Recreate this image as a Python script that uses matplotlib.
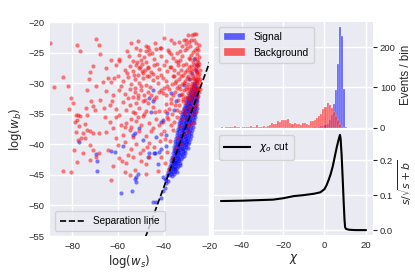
import numpy as np
import matplotlib
matplotlib.use("Agg")
import matplotlib.pyplot as plt

plt.rcParams['font.family'] = ['Liberation Sans', 'DejaVu Sans']
plt.rcParams['mathtext.fontset'] = 'dejavusans'

# ---------------- data ----------------
# background scatter (log w_s, log w_b)
bkg_pts = [
    # far left sparse
    (-89.7, -23.5), (-87.9, -30.6), (-84.2, -29.0), (-81.7, -30.4), (-80.3, -32.5), (-79.8, -33.3),
    (-81.3, -34.3), (-77.8, -23.7), (-76.4, -24.8), (-78.4, -35.2), (-78.1, -36.0), (-77.5, -35.2),
    (-76.6, -35.4), (-78.8, -36.3), (-76.9, -37.0), (-78.4, -38.0), (-77.4, -39.3), (-76.2, -39.0),
    (-74.5, -39.0), (-79.3, -41.0), (-78.1, -42.9), (-80.7, -44.5), (-84.2, -44.3), (-75.2, -41.5),
    (-73.5, -31.1), (-72.3, -28.1), (-72.6, -29.4), (-70.8, -27.2), (-69.4, -22.8), (-68.2, -23.8),
    (-71.6, -33.0), (-70.8, -33.8), (-70.1, -34.4), (-74.0, -34.1), (-73.7, -35.2), (-74.5, -36.7),
    (-73.5, -37.7), (-72.0, -37.8), (-71.1, -38.2), (-75.2, -38.2), (-69.4, -30.4), (-72.3, -40.1),
    (-71.1, -41.0), (-69.4, -42.1), (-72.3, -42.5), (-68.2, -38.2), (-68.2, -41.5), (-63.2, -45.8),
    (-68.0, -32.7), (-67.9, -25.3),
    # top of middle
    (-51.3, -23.1), (-47.6, -23.9), (-54.3, -23.5), (-43.3, -24.4), (-41.6, -24.2), (-38.2, -24.5),
    (-35.3, -23.4), (-33.2, -23.3), (-29.5, -22.2), (-26.6, -22.0), (-59.3, -26.4),
    # middle blob
    (-52.0, -24.3), (-47.7, -24.8), (-47.0, -24.1), (-46.2, -24.6), (-41.2, -24.2), (-37.5, -24.9),
    (-59.3, -26.0), (-50.6, -25.4), (-49.9, -26.2), (-48.4, -25.7), (-47.7, -26.5), (-46.2, -25.3),
    (-44.0, -26.0), (-41.2, -25.6), (-39.0, -26.4), (-36.8, -25.2), (-33.9, -26.6),
    (-65.1, -27.5), (-61.0, -27.0), (-57.1, -27.8), (-54.9, -27.2), (-53.5, -28.0), (-52.0, -27.0),
    (-50.9, -27.6), (-49.4, -26.9), (-48.0, -27.9), (-47.0, -27.3), (-45.5, -28.1), (-44.0, -27.1),
    (-41.9, -27.7), (-39.7, -27.0), (-38.3, -28.0), (-36.8, -27.4), (-35.4, -27.9),
    (-64.3, -29.2), (-62.9, -29.8), (-60.0, -28.9), (-57.8, -29.6), (-55.6, -29.0), (-54.2, -30.1),
    (-52.7, -29.3), (-51.3, -28.7), (-50.6, -29.9), (-49.1, -29.1), (-47.7, -30.3), (-46.2, -28.8),
    (-44.8, -29.5), (-42.6, -30.0), (-40.4, -29.2), (-38.3, -30.4), (-36.1, -28.9), (-34.6, -29.7),
    (-65.1, -31.3), (-62.2, -32.0), (-59.3, -31.1), (-57.1, -31.8), (-54.9, -31.0), (-53.5, -32.2),
    (-52.3, -31.4), (-51.3, -32.5), (-49.9, -31.2), (-48.4, -31.9), (-47.0, -31.5), (-43.3, -32.3),
    (-41.2, -31.1), (-39.0, -32.0), (-36.8, -32.6),
    (-63.6, -33.5), (-60.7, -34.2), (-57.8, -33.1), (-56.4, -34.4), (-54.9, -33.6), (-53.5, -34.7),
    (-52.0, -33.3), (-50.6, -34.1), (-49.1, -33.0), (-47.7, -34.5), (-44.8, -33.9), (-41.9, -34.6),
    (-39.0, -33.4), (-37.5, -34.3),
    (-65.8, -35.6), (-63.6, -36.3), (-59.3, -35.2), (-56.4, -36.5), (-54.2, -35.8), (-52.0, -36.2),
    (-49.1, -35.4), (-46.2, -36.6), (-43.3, -35.9), (-40.4, -36.4), (-38.3, -35.5),
    (-65.1, -38.0), (-62.2, -37.4), (-57.8, -38.4), (-54.9, -37.6), (-53.5, -38.8), (-50.6, -37.9),
    (-47.7, -38.6), (-44.8, -37.3), (-41.2, -38.3),
    (-60.0, -40.1), (-57.1, -39.6), (-54.2, -40.7), (-52.0, -39.9), (-49.1, -40.9), (-46.2, -39.8),
    (-44.0, -40.5),
    (-59.3, -42.3), (-56.4, -43.0), (-53.5, -42.1), (-49.9, -42.8), (-47.7, -43.2), (-46.2, -42.0),
    (-57.1, -44.6), (-54.9, -45.0), (-52.7, -44.2), (-47.7, -44.9), (-42.6, -44.4),
    (-51.8, -26.5), (-50.2, -27.3), (-48.8, -28.4), (-47.3, -28.9), (-46.0, -30.6), (-52.5, -30.8),
    (-50.0, -30.5), (-48.0, -32.7), (-45.3, -31.9), (-53.0, -28.6), (-49.5, -28.0), (-46.7, -27.6),
    (-51.0, -32.0), (-44.5, -28.5), (-43.0, -29.0), (-55.5, -32.5),
    (-55.0, -25.6), (-53.2, -26.4), (-50.5, -24.6), (-45.0, -25.1), (-43.0, -26.8), (-41.0, -28.6),
    (-39.8, -30.8), (-42.2, -31.4), (-44.0, -32.6), (-46.8, -33.3), (-48.5, -35.0), (-51.4, -35.6),
    (-54.3, -37.1), (-56.9, -37.2), (-58.8, -36.9), (-61.0, -35.6), (-62.6, -33.0), (-61.5, -29.2),
    (-58.5, -30.4), (-56.1, -28.4), (-52.3, -34.9), (-50.0, -36.8), (-45.6, -37.9), (-43.6, -34.8),
    (-39.4, -39.2), (-47.2, -40.4), (-50.5, -41.5), (-55.5, -41.8), (-58.2, -42.7), (-60.8, -39.0),
    (-62.0, -43.6), (-64.4, -40.9), (-66.0, -34.1), (-66.5, -29.8), (-63.0, -26.2), (-56.0, -24.7),
    (-43.8, -23.5), (-40.0, -22.6), (-36.6, -22.9),
    # dense right band
    (-25.9, -22.0), (-27.5, -22.2), (-30.3, -22.9), (-31.2, -23.0), (-26.0, -23.5), (-28.4, -24.0),
    (-24.9, -24.6), (-27.0, -24.9), (-29.6, -24.3), (-33.0, -24.8), (-25.6, -25.3),
    (-24.6, -25.8), (-25.5, -26.2), (-26.3, -25.9), (-27.2, -26.6), (-28.5, -26.1), (-30.1, -26.8),
    (-31.8, -25.6), (-33.5, -27.0), (-24.8, -27.2), (-25.7, -27.6), (-26.6, -27.1), (-27.9, -27.8),
    (-29.0, -27.4), (-32.4, -27.9), (-34.6, -26.4), (-24.4, -26.9), (-25.2, -28.1), (-26.0, -26.8),
    (-24.3, -28.5), (-24.9, -29.0), (-25.4, -28.4), (-25.8, -29.6), (-26.3, -28.8), (-26.7, -30.1),
    (-27.1, -29.2), (-27.6, -28.6), (-28.0, -30.4), (-28.6, -29.3), (-29.2, -28.9), (-29.8, -30.6),
    (-30.5, -29.7), (-31.3, -28.7), (-32.0, -30.2), (-33.1, -29.4), (-34.0, -30.8), (-24.6, -30.3),
    (-25.1, -30.8), (-25.6, -30.0), (-26.1, -31.0), (-27.3, -30.7), (-23.9, -29.4), (-24.2, -30.9),
    (-28.9, -31.0), (-30.9, -31.2), (-35.5, -28.8), (-36.5, -30.1),
    (-24.5, -31.5), (-25.0, -32.1), (-25.5, -31.7), (-26.0, -32.6), (-26.5, -31.4), (-27.0, -32.0),
    (-27.6, -33.1), (-28.2, -31.8), (-28.8, -32.6), (-29.5, -31.6), (-30.2, -33.3), (-30.8, -32.2),
    (-31.7, -33.0), (-32.6, -31.9), (-33.8, -32.7), (-34.9, -33.6), (-25.3, -33.4), (-26.3, -33.7),
    (-27.1, -34.0), (-29.0, -33.9), (-31.0, -34.2), (-35.9, -32.0),
    (-26.0, -34.8), (-27.5, -35.2), (-28.6, -34.6), (-29.7, -35.7), (-30.6, -34.9), (-31.9, -35.9),
    (-32.8, -34.7), (-34.1, -35.6), (-35.3, -36.4), (-27.2, -36.6), (-29.0, -36.9), (-33.0, -37.0),
    (-36.4, -35.1),
    (-29.5, -37.8), (-31.4, -38.3), (-33.6, -38.9), (-35.8, -37.6), (-37.2, -39.4), (-32.2, -40.0),
    (-34.7, -40.6), (-38.4, -41.2), (-36.0, -42.3), (-39.5, -43.0), (-41.0, -42.0), (-37.8, -44.0),
    (-24.0, -27.8), (-24.7, -23.8), (-26.8, -23.0), (-28.0, -25.4), (-29.0, -25.9), (-30.7, -24.6),
    (-31.5, -27.1), (-32.8, -26.2), (-27.8, -22.9), (-25.3, -24.3), (-26.4, -24.6), (-28.9, -23.3),
    (-25.0, -26.6), (-26.9, -27.7), (-28.2, -27.2), (-29.6, -27.9), (-30.8, -28.2), (-32.2, -28.9),
    (-33.8, -28.3), (-24.6, -29.6), (-25.9, -28.0), (-27.4, -29.9), (-28.4, -28.1), (-29.9, -29.1),
    (-31.0, -30.0), (-32.7, -31.0), (-34.8, -31.4), (-25.3, -29.3), (-26.5, -29.4), (-27.9, -31.3),
    (-29.4, -30.2), (-30.4, -31.0), (-31.9, -31.7), (-33.4, -30.4), (-35.0, -30.0),
    (-24.8, -31.0), (-25.8, -31.2), (-26.8, -30.6), (-27.8, -32.4), (-29.2, -32.3), (-31.3, -32.6),
    (-33.2, -33.5), (-34.2, -34.4), (-36.9, -33.2), (-37.8, -31.0), (-38.9, -29.6), (-37.3, -27.4),
    (-35.9, -25.9), (-34.2, -25.0), (-32.0, -23.9), (-30.0, -23.6),
    (-36.6, -36.9), (-38.0, -35.8), (-39.5, -34.6), (-40.2, -31.6), (-39.8, -37.8), (-42.0, -36.9),
    (-41.5, -39.5),
]

# signal scatter (log w_s, log w_b)
sig_pts = [
    # scattered
    (-76.9, -39.6), (-69.7, -41.6), (-69.1, -42.7), (-69.1, -44.3),
    (-46.2, -32.5), (-44.8, -33.0), (-45.5, -34.7), (-50.6, -37.4), (-52.7, -38.2), (-53.5, -38.5),
    (-57.8, -40.2), (-61.4, -41.2), (-62.9, -41.1), (-52.0, -45.4), (-51.3, -44.9), (-47.0, -42.1),
    (-46.2, -41.5), (-44.0, -41.5), (-41.9, -41.2), (-41.2, -40.7), (-39.0, -40.3), (-43.3, -38.8),
    (-49.1, -39.3), (-39.0, -38.5), (-40.4, -36.0), (-38.3, -34.9), (-35.4, -34.4), (-34.6, -33.0),
    (-36.8, -31.6), (-33.2, -31.9), (-44.8, -31.1), (-41.2, -36.3), (-31.0, -30.3), (-28.8, -29.4),
    (-27.4, -28.3), (-26.0, -27.8), (-26.7, -26.1), (-25.2, -27.0),
    (-52.7, -45.6), (-52.0, -46.2), (-53.7, -47.6), (-42.6, -43.2), (-43.6, -41.5), (-40.4, -45.4),
    (-58.5, -48.0), (-44.5, -49.5),
    # lower tail
    (-39.2, -45.6), (-38.8, -46.3), (-39.6, -47.2), (-40.1, -47.7), (-38.0, -46.0), (-41.0, -48.8),
    (-43.3, -49.5), (-39.0, -45.9),
    # dense band
    (-38.5, -45.0), (-37.6, -45.1), (-36.9, -44.9), (-36.2, -45.2), (-35.5, -44.8),
    (-38.0, -44.5), (-37.2, -44.6), (-36.6, -44.4), (-35.9, -44.5), (-35.0, -44.3), (-34.3, -44.6),
    (-37.5, -44.0), (-36.8, -43.9), (-36.1, -44.1), (-35.5, -43.9), (-34.8, -44.0), (-34.0, -43.8),
    (-37.3, -43.5), (-36.5, -43.4), (-35.8, -43.6), (-35.2, -43.5), (-34.5, -43.3), (-33.8, -43.6), (-33.0, -43.4),
    (-36.9, -43.0), (-36.1, -42.9), (-35.4, -43.1), (-34.8, -42.9), (-34.2, -43.0), (-33.5, -42.8), (-32.8, -43.1),
    (-36.6, -42.5), (-35.8, -42.4), (-35.1, -42.6), (-34.5, -42.5), (-33.8, -42.3), (-33.2, -42.6), (-32.4, -42.4),
    (-36.3, -42.0), (-35.5, -41.9), (-34.8, -42.1), (-34.1, -41.9), (-33.5, -42.0), (-32.8, -41.8), (-32.0, -42.1), (-31.2, -41.9),
    (-36.0, -41.5), (-35.2, -41.4), (-34.5, -41.6), (-33.8, -41.5), (-33.1, -41.3), (-32.4, -41.6), (-31.7, -41.4), (-30.8, -41.5),
    (-35.6, -41.0), (-34.9, -40.9), (-34.2, -41.1), (-33.5, -40.9), (-32.8, -41.0), (-32.1, -40.8), (-31.4, -41.1), (-30.5, -40.9),
    (-35.3, -40.5), (-34.6, -40.4), (-33.9, -40.6), (-33.2, -40.5), (-32.5, -40.3), (-31.8, -40.6), (-31.0, -40.4), (-30.2, -40.5), (-29.5, -40.6),
    (-35.0, -40.0), (-34.2, -39.9), (-33.5, -40.1), (-32.8, -39.9), (-32.1, -40.0), (-31.4, -39.8), (-30.7, -40.1), (-30.0, -39.9), (-29.2, -40.0),
    (-34.8, -39.5), (-34.0, -39.4), (-33.2, -39.6), (-32.5, -39.5), (-31.8, -39.3), (-31.1, -39.6), (-30.4, -39.4), (-29.6, -39.5), (-28.8, -39.6),
    (-34.5, -39.0), (-33.7, -38.9), (-32.9, -39.1), (-32.2, -39.0), (-31.5, -38.8), (-30.8, -39.1), (-30.1, -38.9), (-29.3, -39.0), (-28.4, -39.1),
    (-34.2, -38.5), (-33.4, -38.4), (-32.6, -38.6), (-31.9, -38.5), (-31.2, -38.3), (-30.5, -38.6), (-29.8, -38.4), (-29.0, -38.5), (-28.1, -38.6),
    (-34.0, -38.0), (-33.1, -37.9), (-32.3, -38.1), (-31.6, -38.0), (-30.9, -37.8), (-30.2, -38.1), (-29.5, -37.9), (-28.7, -38.0), (-27.8, -38.1),
    (-33.7, -37.5), (-32.8, -37.4), (-32.0, -37.6), (-31.3, -37.5), (-30.6, -37.3), (-29.9, -37.6), (-29.2, -37.4), (-28.4, -37.5), (-27.5, -37.6),
    (-33.4, -37.0), (-32.5, -36.9), (-31.7, -37.1), (-31.0, -37.0), (-30.3, -36.8), (-29.6, -37.1), (-28.9, -36.9), (-28.1, -37.0), (-27.2, -37.1),
    (-33.1, -36.5), (-32.2, -36.4), (-31.4, -36.6), (-30.7, -36.5), (-30.0, -36.3), (-29.3, -36.6), (-28.6, -36.4), (-27.8, -36.5), (-26.9, -36.6),
    (-32.8, -36.0), (-31.9, -35.9), (-31.1, -36.1), (-30.4, -36.0), (-29.7, -35.8), (-29.0, -36.1), (-28.3, -35.9), (-27.5, -36.0), (-26.6, -36.1),
    (-32.4, -35.5), (-31.5, -35.4), (-30.8, -35.6), (-30.1, -35.5), (-29.4, -35.3), (-28.7, -35.6), (-28.0, -35.4), (-27.2, -35.5), (-26.3, -35.6),
    (-32.0, -35.0), (-31.2, -34.9), (-30.5, -35.1), (-29.8, -35.0), (-29.1, -34.8), (-28.4, -35.1), (-27.7, -34.9), (-26.9, -35.0), (-26.1, -35.1),
    (-31.6, -34.5), (-30.8, -34.4), (-30.1, -34.6), (-29.4, -34.5), (-28.7, -34.3), (-28.0, -34.6), (-27.3, -34.4), (-26.6, -34.5), (-25.8, -34.6),
    (-31.2, -34.0), (-30.4, -33.9), (-29.7, -34.1), (-29.0, -34.0), (-28.3, -33.8), (-27.6, -34.1), (-26.9, -33.9), (-26.2, -34.0), (-25.5, -34.1),
    (-30.7, -33.5), (-29.9, -33.4), (-29.2, -33.6), (-28.5, -33.5), (-27.8, -33.3), (-27.1, -33.6), (-26.4, -33.4), (-25.7, -33.5),
    (-30.2, -33.0), (-29.4, -32.9), (-28.7, -33.1), (-28.0, -33.0), (-27.3, -32.8), (-26.6, -33.1), (-25.9, -32.9), (-25.2, -33.0),
    (-29.6, -32.5), (-28.8, -32.4), (-28.1, -32.6), (-27.4, -32.5), (-26.7, -32.3), (-26.0, -32.6), (-25.3, -32.4),
    (-29.0, -32.0), (-28.2, -31.9), (-27.5, -32.1), (-26.8, -32.0), (-26.1, -31.8), (-25.4, -32.1),
    (-28.4, -31.5), (-27.6, -31.4), (-26.9, -31.6), (-26.2, -31.5), (-25.5, -31.3),
    (-27.8, -31.0), (-27.0, -30.9), (-26.3, -31.1), (-25.6, -31.0),
    (-27.2, -30.5), (-26.4, -30.4), (-25.7, -30.6),
    (-26.6, -30.0), (-25.8, -29.9), (-26.0, -29.5),
]

bkg_ws = [p[0] for p in bkg_pts]
bkg_wb = [p[1] for p in bkg_pts]
sig_ws = [p[0] for p in sig_pts]
sig_wb = [p[1] for p in sig_pts]

# separation line: log(w_b) = slope*log(w_s) + intercept
sep_slope = 1.02
sep_intercept = -6.3
sep_ws = [-48.0, -15.0]

# histograms of chi (bin edges, counts)
bin_edges = list(range(-50, 12))
bkg_counts = [1, 0, 2, 1, 1, 2, 3, 1, 2, 0, 2, 1, 2, 1, 3, 2, 1, 6, 2, 1,
              3, 2, 4, 6, 11, 8, 10, 16, 14, 18, 18, 18, 22, 12, 9, 12, 10, 9, 7, 11,
              11, 8, 7, 16, 16, 19, 23, 29, 33, 46, 52, 61, 56, 48, 40, 30, 18, 8, 2, 0, 0]
sig_counts = [0] * 45 + [1, 0, 2, 3, 4, 6, 10, 18, 32, 58, 93, 157, 250, 228, 97, 2]

# s/sqrt(s+b) vs chi cut
chi_cut = [-50, -40, -30, -25, -20, -15, -10, -5, -2, 0, 1, 2, 3, 4, 5, 6, 7, 7.5,
           7.8, 8.3, 8.8, 9.3, 9.7, 10.0, 10.5, 12, 15, 20]
sig_ratio = [0.083, 0.084, 0.086, 0.087, 0.091, 0.097, 0.100, 0.104, 0.108, 0.117,
             0.128, 0.143, 0.160, 0.182, 0.210, 0.238, 0.262, 0.272, 0.262, 0.215,
             0.150, 0.080, 0.030, 0.008, 0.003, 0.001, 0.000, 0.000]

# ---------------- style ----------------
bg = '#EAEAF2'
txt = '#262626'

def style(ax):
    ax.set_facecolor(bg)
    ax.grid(True, color='white', lw=1.0)
    ax.set_axisbelow(True)
    for s in ax.spines.values():
        s.set_visible(False)
    ax.tick_params(labelsize=6.8, colors=txt, length=0, pad=4)

fig = plt.figure(figsize=(4.15, 2.77), dpi=100)
W, H = 415.0, 277.0
ax1 = fig.add_axes([50 / W, 1 - 236 / H, 159.3 / W, 214 / H])
ax2 = fig.add_axes([214 / W, 1 - 127.7 / H, 159 / W, 105.7 / H])
ax3 = fig.add_axes([214 / W, 1 - 235 / H, 159 / W, 105 / H], sharex=ax2)
for a in (ax1, ax2, ax3):
    style(a)

# scatter (signal first, background drawn over it)
ax1.scatter(sig_ws, sig_wb, s=9, c='blue', alpha=0.5, linewidths=0)
ax1.scatter(bkg_ws, bkg_wb, s=9, c='red', alpha=0.5, linewidths=0)
sep_wb = [sep_slope * x + sep_intercept for x in sep_ws]
ax1.plot(sep_ws, sep_wb, 'k--', lw=1.2, label='Separation line')
ax1.set_xlim(-89.7, -20.4)
ax1.set_ylim(-55, -20)
ax1.set_xticks([-80, -60, -40, -20])
ax1.set_yticks([-20, -25, -30, -35, -40, -45, -50, -55])
ax1.set_xlabel(r'$\log(w_s)$', fontsize=8.5, color=txt, labelpad=2)
ax1.set_ylabel(r'$\log(w_b)$', fontsize=8.5, color=txt, labelpad=3)
ax1.legend(loc='lower left', fontsize=7.2, facecolor=bg, edgecolor='#cccccc',
           framealpha=0.8, borderpad=0.5, handlelength=2.5)

# histograms
edges = np.array(bin_edges, dtype=float)
centers = 0.5 * (edges[:-1] + edges[1:])
widths = np.diff(edges)
ax2.bar(centers, sig_counts, width=widths, color='blue', alpha=0.6,
        edgecolor='white', linewidth=0.3, label='Signal')
ax2.bar(centers, bkg_counts, width=widths, color='red', alpha=0.6,
        edgecolor='white', linewidth=0.3, label='Background')
ax2.set_ylim(0, 262)
ax2.set_yticks([0, 100, 200])
ax2.yaxis.tick_right()
ax2.yaxis.set_label_position('right')
ax2.tick_params(axis='y', length=3, width=0.8, color=txt, pad=2)
ax2.set_ylabel('Events / bin', fontsize=8.3, color=txt, labelpad=3)
plt.setp(ax2.get_xticklabels(), visible=False)
ax2.legend(loc='upper left', fontsize=7.5, facecolor=bg, edgecolor='#cccccc',
           framealpha=0.8, borderpad=0.5, handlelength=2.0)

# s/sqrt(s+b)
ax3.plot(chi_cut, sig_ratio, color='black', lw=1.5, label=r'$\chi_o$ cut')
ax3.set_xlim(-53.5, 23.5)
ax3.set_ylim(-0.014, 0.286)
ax3.set_xticks([-40, -20, 0, 20])
ax3.set_yticks([0.0, 0.1, 0.2])
ax3.yaxis.tick_right()
ax3.yaxis.set_label_position('right')
ax3.tick_params(axis='y', length=3, width=0.8, color=txt, pad=2)
ax3.set_ylabel(r'$s/\sqrt{s+b}$', fontsize=7.8, color=txt, labelpad=2)
ax3.set_xlabel(r'$\chi$', fontsize=8.5, color=txt, labelpad=2)
ax3.legend(loc='upper left', fontsize=7.5, facecolor=bg, edgecolor='#cccccc',
           framealpha=0.8, borderpad=0.5, handlelength=2.5)

fig.savefig('out.png', dpi=100)
